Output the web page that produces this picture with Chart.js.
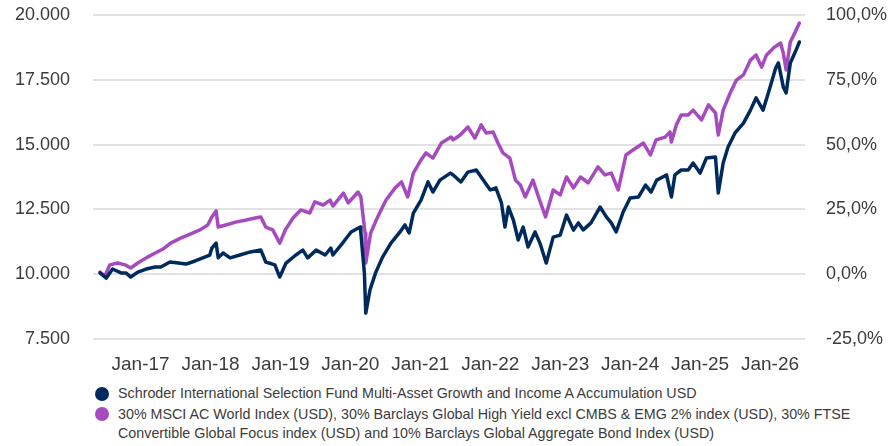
<!DOCTYPE html>
<html>
<head>
<meta charset="utf-8">
<script src="https://cdn.jsdelivr.net/npm/chart.js@4.4.1/dist/chart.umd.min.js"></script>
<style>
  body { margin: 0; background: #fff; font-family: "Liberation Sans", Arial, sans-serif; }
  #wrap { position: relative; width: 895px; height: 446px; }
  #chart { position: absolute; left: 0; top: 0; }
  #legend { position: absolute; left: 95px; top: 384px; width: 790px; color: #3c3c3c; font-size: 14.3px; line-height: 19.5px; }
  .item { position: relative; padding-left: 23px; margin-bottom: 1px; }
  .dot { position: absolute; left: 0; top: 2.5px; width: 14px; height: 14px; border-radius: 50%; }
</style>
</head>
<body>
<div id="wrap">
  <canvas id="chart" width="895" height="380"></canvas>
  <div id="legend"></div>
</div>
<script>
// series labels
const fundLabel = 'Schroder International Selection Fund Multi-Asset Growth and Income A Accumulation USD';
const benchLabel = '30% MSCI AC World Index (USD), 30% Barclays Global High Yield excl CMBS & EMG 2% index (USD), 30% FTSE Convertible Global Focus index (USD) and 10% Barclays Global Aggregate Bond Index (USD)';

// x ticks
const tickYears = [2017, 2018, 2019, 2020, 2021, 2022, 2023, 2024, 2025, 2026];
const tickLabels = ['Jan-17', 'Jan-18', 'Jan-19', 'Jan-20', 'Jan-21', 'Jan-22', 'Jan-23', 'Jan-24', 'Jan-25', 'Jan-26'];

// fund (decimal year / value of 10.000 invested)
const fundTimes = [
  2016.42, 2016.51, 2016.60, 2016.72, 2016.79, 2016.86, 2016.96, 2017.08, 2017.21, 2017.29,
  2017.42, 2017.54, 2017.65, 2017.78, 2017.89, 2017.99, 2018.02, 2018.08, 2018.11, 2018.18,
  2018.28, 2018.42, 2018.57, 2018.72, 2018.79, 2018.92, 2018.99, 2019.08, 2019.22, 2019.32,
  2019.39, 2019.51, 2019.64, 2019.72, 2019.75, 2019.90, 2020.01, 2020.14, 2020.15, 2020.20,
  2020.22, 2020.28, 2020.36, 2020.46, 2020.58, 2020.71, 2020.78, 2020.84, 2020.90, 2021.01,
  2021.11, 2021.18, 2021.28, 2021.43, 2021.47, 2021.58, 2021.68, 2021.80, 2021.90, 2022.00,
  2022.08, 2022.16, 2022.21, 2022.26, 2022.33, 2022.40, 2022.47, 2022.54, 2022.64, 2022.71,
  2022.80, 2022.90, 2023.00, 2023.09, 2023.19, 2023.26, 2023.33, 2023.44, 2023.57, 2023.66,
  2023.73, 2023.80, 2023.90, 2024.00, 2024.12, 2024.22, 2024.30, 2024.38, 2024.52, 2024.59,
  2024.64, 2024.73, 2024.83, 2024.90, 2025.00, 2025.09, 2025.22, 2025.26, 2025.33, 2025.40,
  2025.50, 2025.62, 2025.72, 2025.80, 2025.90, 2025.98, 2026.08, 2026.12, 2026.19, 2026.23,
  2026.29, 2026.36, 2026.42
];
const fundValues = [
  10050, 9850, 10200, 10050, 10050, 9890, 10080, 10200, 10280, 10280,
  10470, 10430, 10390, 10510, 10630, 10740, 11010, 11200, 10630, 10820,
  10630, 10740, 10860, 10930, 10470, 10360, 9890, 10430, 10740, 10930,
  10630, 10930, 10740, 11010, 10740, 11240, 11630, 11820, 11590, 10050,
  8500, 9390, 10050, 10660, 11200, 11630, 11900, 11590, 12360, 12860,
  13560, 13170, 13630, 13900, 13830, 13560, 13940, 14020, 13630, 13250,
  13330, 12750, 11820, 12590, 12090, 11320, 11820, 11050, 11630, 11200,
  10430, 11430, 11510, 12280, 11700, 11980, 11710, 11980, 12590, 12210,
  11980, 11630, 12400, 12940, 12980, 13440, 13170, 13630, 13830, 12980,
  13830, 14020, 14020, 14290, 13900, 14480, 14520, 13130, 14290, 14910,
  15450, 15830, 16330, 16800, 16330, 17030, 17950, 18150, 17220, 16990,
  18150, 18570, 18960
];

// benchmark
const benchTimes = [
  2016.42, 2016.49, 2016.56, 2016.67, 2016.78, 2016.86, 2016.96, 2017.08, 2017.21, 2017.32,
  2017.43, 2017.58, 2017.71, 2017.85, 2017.96, 2018.02, 2018.08, 2018.11, 2018.22, 2018.36,
  2018.51, 2018.64, 2018.72, 2018.79, 2018.89, 2018.99, 2019.07, 2019.18, 2019.29, 2019.42,
  2019.49, 2019.61, 2019.71, 2019.75, 2019.90, 2019.97, 2020.11, 2020.15, 2020.21, 2020.22,
  2020.29, 2020.39, 2020.51, 2020.64, 2020.73, 2020.82, 2020.90, 2021.01, 2021.08, 2021.18,
  2021.30, 2021.44, 2021.47, 2021.57, 2021.68, 2021.78, 2021.87, 2021.94, 2022.04, 2022.11,
  2022.18, 2022.28, 2022.36, 2022.43, 2022.50, 2022.61, 2022.69, 2022.79, 2022.90, 2023.00,
  2023.09, 2023.19, 2023.29, 2023.40, 2023.54, 2023.64, 2023.73, 2023.83, 2023.94, 2024.04,
  2024.19, 2024.29, 2024.37, 2024.50, 2024.57, 2024.59, 2024.66, 2024.73, 2024.83, 2024.90,
  2025.02, 2025.12, 2025.22, 2025.26, 2025.33, 2025.43, 2025.52, 2025.62, 2025.72, 2025.80,
  2025.88, 2025.95, 2026.05, 2026.15, 2026.19, 2026.23, 2026.29, 2026.36, 2026.42
];
const benchValues = [
  10080, 9930, 10360, 10430, 10360, 10240, 10430, 10630, 10820, 10970,
  11200, 11400, 11550, 11710, 11900, 12210, 12440, 11820, 11900, 12010,
  12090, 12170, 12210, 11820, 11710, 11200, 11710, 12170, 12480, 12360,
  12790, 12670, 12860, 12630, 13130, 12750, 13170, 12980, 11590, 10430,
  11590, 12210, 12860, 13330, 13560, 12980, 13900, 14410, 14680, 14480,
  15060, 15290, 15180, 15370, 15680, 15250, 15760, 15450, 15490, 15060,
  14680, 14480, 13630, 13440, 12980, 13630, 12980, 12210, 13250, 13060,
  13750, 13330, 13750, 13520, 14140, 13830, 13900, 13250, 14600, 14790,
  15060, 14600, 15180, 15290, 15490, 15100, 15760, 16140, 16140, 16330,
  15950, 16530, 16220, 15370, 16330, 16990, 17490, 17690, 18260, 18460,
  17990, 18460, 18730, 18920, 18530, 17880, 18960, 19340, 19690
];

const fundColor = '#002a5c';
const benchColor = '#a64bbf';
const textColor = '#3c3c3c';

Chart.defaults.font.family = "'Liberation Sans', Arial, sans-serif";

const fundPoints = fundTimes.map((t, i) => ({ x: t, y: fundValues[i] }));
const benchPoints = benchTimes.map((t, i) => ({ x: t, y: benchValues[i] }));

const lineStyle = { borderWidth: 3.5, pointRadius: 0, tension: 0, borderJoinStyle: 'round', borderCapStyle: 'round', yAxisID: 'y' };

const ctx = document.getElementById('chart').getContext('2d');
new Chart(ctx, {
  type: 'line',
  data: {
    datasets: [
      { ...lineStyle, label: fundLabel, data: fundPoints, borderColor: fundColor },
      { ...lineStyle, label: benchLabel, data: benchPoints, borderColor: benchColor }
    ]
  },
  options: {
    responsive: false,
    animation: false,
    layout: { padding: { top: 15, left: 0, right: 0, bottom: 0 } },
    plugins: { legend: { display: false }, tooltip: { enabled: false } },
    scales: {
      x: {
        type: 'linear',
        min: 2016.32,
        max: 2026.5,
        grid: { display: false, drawTicks: false },
        border: { display: false },
        afterBuildTicks: s => { s.ticks = tickYears.map(v => ({ value: v })); },
        afterFit: s => { s.height = 41; s.paddingLeft = 0; s.paddingRight = 0; },
        ticks: {
          padding: 14, maxRotation: 0, autoSkip: false, color: textColor, font: { size: 19 },
          callback: (v, i) => tickLabels[i]
        }
      },
      y: {
        position: 'left',
        min: 7500,
        max: 20000,
        grid: { color: '#e2e2e2', lineWidth: 2, drawTicks: false },
        border: { display: false },
        afterFit: s => { s.width = 93; s.paddingTop = 0; s.paddingBottom = 0; },
        ticks: {
          stepSize: 2500, padding: 23, color: textColor, font: { size: 18 },
          callback: v => v.toLocaleString('de-DE')
        }
      },
      y2: {
        position: 'right',
        min: 7500,
        max: 20000,
        grid: { display: false, drawTicks: false },
        border: { display: false },
        afterFit: s => { s.width = 90; s.paddingTop = 0; s.paddingBottom = 0; },
        ticks: {
          stepSize: 2500, padding: 21, color: textColor, font: { size: 18 },
          callback: v => ((v - 10000) / 100).toFixed(1).replace('.', ',') + '%'
        }
      }
    }
  }
});

// legend below the chart
const legend = document.getElementById('legend');
[[fundColor, fundLabel], [benchColor, benchLabel]].forEach(([c, t]) => {
  const item = document.createElement('div');
  item.className = 'item';
  const dot = document.createElement('span');
  dot.className = 'dot';
  dot.style.background = c;
  item.appendChild(dot);
  item.appendChild(document.createTextNode(t));
  legend.appendChild(item);
});
</script>
</body>
</html>
